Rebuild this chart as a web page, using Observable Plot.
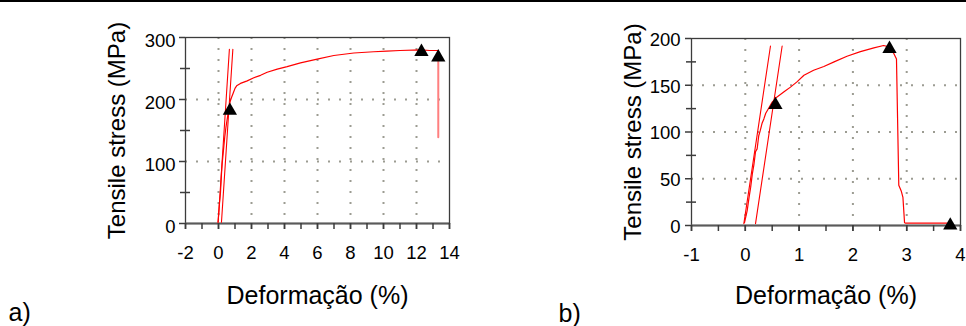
<!DOCTYPE html>
<html><head><meta charset="utf-8">
<script src="https://cdn.jsdelivr.net/npm/d3@7"></script>
<script src="https://cdn.jsdelivr.net/npm/@observablehq/plot@0.6"></script>
<style>
body{margin:0;background:#fff;}
#wrap{position:relative;width:966px;height:326px;overflow:hidden;background:#fff;font-family:"Liberation Sans",Arial,sans-serif;}
#topline{position:absolute;left:0;top:0;width:966px;height:2px;background:#000;}
#a,#b{position:absolute;top:0;}
#a{left:0}#b{left:483px}
</style></head><body>
<div id="wrap"><div id="a"></div><div id="b"></div><div id="topline"></div></div>
<script>
// ---------- data: panel a ----------
const aStrain = [-0.03,0.05,0.12,0.18,0.22,0.30,0.38,0.45,0.55,0.63,0.72,0.80,0.90,1.00,1.10,1.33,1.74,2.14,2.55,2.95,3.56,4.16,4.97,5.98,6.99,8.20,9.41,10.2,11.0,12.24,12.8,13.3];
const aStress = [2,30,50,80,96,118,140,155,172,187,198,204,211,218,222,226,230,235,239,244,249,253,259,265,271,275,277,278,279,280,279,279];
const aDropStrain = [13.32,13.32];
const aDropStress = [275,139];
const aLine1Strain = [-0.02,0.66];
const aLine1Stress = [2,281];
const aLine2Strain = [0.18,0.87];
const aLine2Stress = [2,281];
const aMarkStrain = [0.69,12.3,13.32];
const aMarkStress = [182,277,268];
const aXTickLabels = [-2,0,2,4,6,8,10,12,14];
const aXMinorTicks = [-2,-1,0,1,2,3,4,5,6,7,8,9,10,11,12,13,14];
const aYTickLabels = [0,100,200,300];
const aYMinorTicks = [50,150,250];
const aXGrid = [0,2,4,6,8,10,12];
const aYGrid = [100,200];

// ---------- data: panel b ----------
const bStrain = [-0.015,0.035,0.07,0.10,0.13,0.16,0.19,0.22,0.25,0.28,0.31,0.345,0.38,0.41,0.50,0.59,0.72,0.84,0.96,1.09,1.27,1.46,1.65,1.89,2.14,2.39,2.57,2.67,2.76,2.81,2.853,2.898,2.93,2.96,2.98,3.75];
const bStress = [3,16,30,41,55,65,79,82,96,102,109,114,120,123,132,137.5,143,148,153.6,160.7,166,170,175,181,186,190,192.5,191,184,178,43,37,30,3,2.5,2.5];
const bLine1Strain = [-0.027,0.468];
const bLine1Stress = [2,192];
const bLine2Strain = [0.19,0.685];
const bLine2Stress = [2,192];
const bMarkStrain = [0.56,2.68,3.81];
const bMarkStress = [129,189,0];
const bXTickLabels = [-1,0,1,2,3,4];
const bXMinorTicks = [-1,-0.5,0,0.5,1,1.5,2,2.5,3,3.5,4];
const bYTickLabels = [0,50,100,150,200];
const bYMinorTicks = [25,75,125,175];
const bXGrid = [0,1,2,3];
const bYGrid = [50,100,150];

const yTitle = "Tensile stress (MPa)";
const xTitle = "Deformação (%)";

const FONT = "Liberation Sans, Arial, sans-serif";
const gridStyle = {stroke: "#9c9c92", strokeOpacity: 1, strokeWidth: 2, strokeDasharray: "2,9"};

function panel(o) {
  return Plot.plot({
    width: 483, height: 326,
    marginLeft: o.marginLeft, marginRight: o.marginRight, marginTop: o.marginTop, marginBottom: o.marginBottom,
    x: {domain: o.xDomain},
    y: {domain: o.yDomain},
    style: {fontFamily: FONT, background: "transparent", overflow: "visible", color: "black"},
    marks: [
      Plot.gridX(o.xGrid, gridStyle),
      Plot.gridY(o.yGrid, gridStyle),
      Plot.frame({stroke: "#3c3c3c", strokeWidth: 1.3}),
      Plot.ruleY([0], {stroke: "#5a5a5a", strokeWidth: 2}),
      Plot.axisX(o.xMinor, {tickSize: 6, fill: "none", stroke: "#3c3c3c", strokeWidth: 1.5, label: null}),
      Plot.axisX(o.xLabels, {tickSize: 6, tickPadding: 16, tickFormat: d => String(d), fontSize: 18.5, fill: "black", stroke: "#3c3c3c", strokeWidth: 1.5, label: null}),
      Plot.axisY(o.yLabels, {tickSize: 6, fill: "none", stroke: "#3c3c3c", strokeWidth: 1.5, label: null}),
      Plot.axisY(o.yLabels, {tickSize: 0, tickPadding: o.yPad, dy: o.yTickDy, tickFormat: d => String(d), fontSize: 18.5, fill: "black", label: null}),
      Plot.axisY(o.yMinor, {tickSize: 10, dx: 5, fill: "none", stroke: "#3c3c3c", strokeWidth: 1.5, label: null}),
      Plot.line(o.l1x, {x: o.l1x, y: o.l1y, stroke: "#ff0000", strokeWidth: 1.1}),
      Plot.line(o.l2x, {x: o.l2x, y: o.l2y, stroke: "#ff0000", strokeWidth: 1.1}),
      o.dx ? Plot.line(o.dx, {x: o.dx, y: o.dy, stroke: "#ff7f7f", strokeWidth: 2}) : null,
      Plot.line(o.cx, {x: o.cx, y: o.cy, stroke: "#ff0000", strokeWidth: 1.2}),
      Plot.dot(o.mx, {x: o.mx, y: o.my, symbol: "triangle", r: 5.3, fill: "black", stroke: null}),
      Plot.text([yTitle], {text: d => d, frameAnchor: "left", rotate: -90, dx: o.yTitleDx, lineAnchor: "bottom", textAnchor: "middle", fontSize: 24, fill: "black"}),
      Plot.text([xTitle], {text: d => d, frameAnchor: "bottom", dy: o.xTitleDy, lineAnchor: "bottom", textAnchor: "middle", fontSize: 25, fill: "black"}),
      Plot.text([o.tag], {text: d => d, frameAnchor: "bottom-left", dx: o.tagDx, dy: o.tagDy, lineAnchor: "bottom", textAnchor: "start", fontSize: 25, fill: "black"})
    ]
  });
}

document.getElementById("a").append(panel({
  marginLeft: 185, marginRight: 34, marginTop: 37, marginBottom: 103,
  xDomain: [-2,14], yDomain: [0,300],
  xGrid: aXGrid, yGrid: aYGrid, xMinor: aXMinorTicks, xLabels: aXTickLabels,
  yLabels: aYTickLabels, yMinor: aYMinorTicks, yPad: 10, yTickDy: 3.5,
  l1x: aLine1Strain, l1y: aLine1Stress, l2x: aLine2Strain, l2y: aLine2Stress,
  dx: aDropStrain, dy: aDropStress,
  cx: aStrain, cy: aStress, mx: aMarkStrain, my: aMarkStress,
  yTitleDx: -61, xTitleDy: 80, tag: "a)", tagDx: -177, tagDy: 97
}));

document.getElementById("b").append(panel({
  marginLeft: 208, marginRight: 6, marginTop: 38, marginBottom: 101,
  xDomain: [-1,4], yDomain: [0,200],
  xGrid: bXGrid, yGrid: bYGrid, xMinor: bXMinorTicks, xLabels: bXTickLabels,
  yLabels: bYTickLabels, yMinor: bYMinorTicks, yPad: 11, yTickDy: 1.5,
  l1x: bLine1Strain, l1y: bLine1Stress, l2x: bLine2Strain, l2y: bLine2Stress,
  dx: null, dy: null,
  cx: bStrain, cy: bStress, mx: bMarkStrain, my: bMarkStress,
  yTitleDx: -51, xTitleDy: 78, tag: "b)", tagDx: -133, tagDy: 96
}));
</script>
</body></html>
